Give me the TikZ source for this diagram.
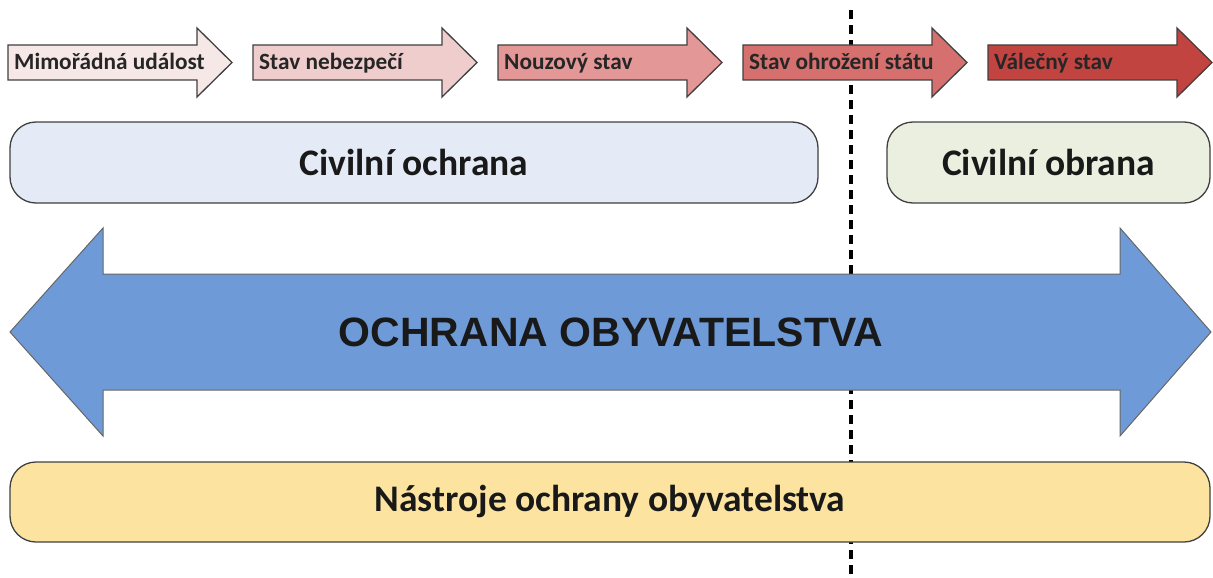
\documentclass[tikz,border=0pt]{standalone}
\usepackage{fontspec}
\setmainfont{Carlito}
\newfontfamily\headfont{Liberation Sans}
\usepackage{tikz}

\definecolor{stageA}{RGB}{247,232,232}
\definecolor{stageB}{RGB}{240,205,205}
\definecolor{stageC}{RGB}{227,152,151}
\definecolor{stageD}{RGB}{214,112,110}
\definecolor{stageE}{RGB}{194,68,65}
\definecolor{ochranafill}{RGB}{229,235,246}
\definecolor{obranafill}{RGB}{235,239,224}
\definecolor{toolfill}{RGB}{252,228,160}
\definecolor{bigblue}{RGB}{110,155,215}
\definecolor{edge}{RGB}{64,64,64}

\begin{document}
\begin{tikzpicture}[x=1pt,y=-1pt,
  outline/.style={draw=edge,line width=1.3pt},
  roundbox/.style={outline,rounded corners=26pt,inner sep=0pt,
    font=\fontsize{37.5}{42}\selectfont\bfseries,text=black!90},
  stagetext/.style={anchor=base west,inner sep=0pt,
    font=\fontsize{23.3}{26}\selectfont\bfseries,text=black!85}]
  \useasboundingbox (0,0) rectangle (1213,578);

  % dividing line between peace and war
  \coordinate (divtop) at (851,10);
  \coordinate (divbot) at (851,578);
  \draw[line width=4pt,dash pattern=on 9pt off 6pt] (divtop) -- (divbot);

  % the five stages
  \foreach \i/\col/\lab in {0/stageA/Mimořádná událost,1/stageB/Stav nebezpečí,
      2/stageC/Nouzový stav,3/stageD/Stav ohrožení státu,4/stageE/Válečný stav}{
    \pgfmathsetmacro{\xl}{8+245*\i}
    \draw[outline,fill=\col] (\xl,45) -- ++(189,0) -- ++(0,-17) -- ++(35,34.5)
      -- ++(-35,34.5) -- ++(0,-17) -- ++(-189,0) -- cycle;
    \node[stagetext] (stage\i) at (\xl+6,70) {\lab};
  }

  % civil protection / civil defence
  \node[roundbox,fill=ochranafill,minimum width=808pt,minimum height=81pt]
    (ochrana) at (414,162.5) {Civilní ochrana};
  \node[roundbox,fill=obranafill,minimum width=323pt,minimum height=81pt]
    (obrana) at (1048.5,162.5) {Civilní obrana};

  % big double arrow
  \draw[line width=1pt,draw=edge!80,fill=bigblue] (10,332) -- (103,228) -- (103,274)
    -- (1120,274) -- (1120,228) -- (1211,332) -- (1120,436) -- (1120,390)
    -- (103,390) -- (103,436) -- cycle;
  \node[inner sep=0pt,font=\headfont\fontsize{41}{44}\selectfont\bfseries,text=black!90]
    (obyv) at (611,332) {OCHRANA OBYVATELSTVA};

  % tools
  \node[roundbox,fill=toolfill,minimum width=1200pt,minimum height=80pt]
    (tools) at (610,502) {Nástroje ochrany obyvatelstva};
\end{tikzpicture}
\end{document}
